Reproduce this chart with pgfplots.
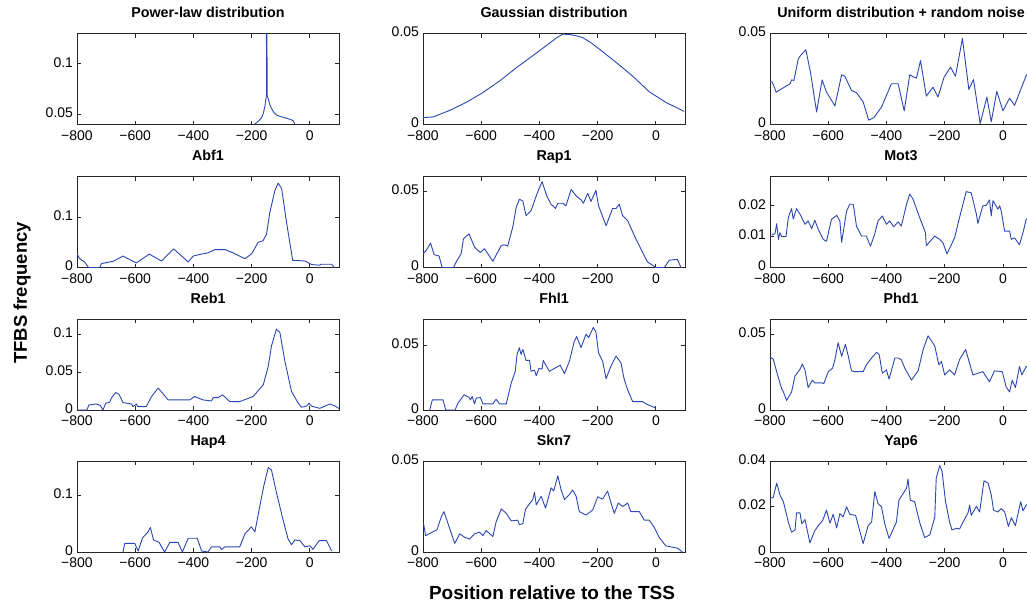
\documentclass[border=0pt]{standalone}
\usepackage{fontspec}
\setmainfont{Liberation Sans}
\usepackage{pgfplots}
\pgfplotsset{compat=1.18}

\definecolor{lineblue}{rgb}{0.17,0.27,0.70}

\pgfplotsset{
  panel/.style={
    width=262pt, height=91pt, scale only axis, anchor=north west,
    xmin=-800, xmax=100,
    xtick={-800,-600,-400,-200,0},
    xticklabels={−800,−600,−400,−200,0},
    scaled ticks=false,
    tick align=inside, major tick length=4pt,
    axis line style={line width=0.8pt, black!85},
    tick style={line width=0.8pt, black!85},
    ticklabel style={font=\fontsize{14}{14}\selectfont},
    xticklabel style={yshift=-2.5pt},
    yticklabel style={xshift=-0.5pt, yshift=1.5pt},
    title style={font=\bfseries\fontsize{14.3}{15}\selectfont,
                 at={(0.5,1)}, anchor=base, yshift=10pt},
  },
}
\tikzset{curve/.style={lineblue, line width=0.9pt, line join=round}}

\begin{document}
\begin{tikzpicture}
\useasboundingbox (0,0) rectangle (1027pt,-603pt);
\clip (0,0) rectangle (1027pt,-603pt);

% ---- row 1 ----
\begin{axis}[panel, at={(77pt,-33.5pt)}, title={Power-law distribution},
  ymin=0.04, ymax=0.13, ytick={0.05,0.1}, yticklabels={0.05,0.1}]
\addplot[curve] coordinates {
(-190,0.0404) (-178,0.0430) (-166,0.0468) (-160,0.0510) (-155,0.0574)
(-151,0.0650) (-149,0.0692) (-150,0.30) (-148,0.30) (-147,0.0690)
(-143,0.0654) (-138,0.0600) (-132,0.0558) (-124,0.0522) (-115,0.0494)
(-100,0.0478) (-80,0.0462) (-65,0.0448) (-57,0.0436) (-52,0.0407)
};
\end{axis}

\begin{axis}[panel, at={(423pt,-33.5pt)}, title={Gaussian distribution},
  ymin=0, ymax=0.05, ytick={0,0.05}, yticklabels={0,0.05}]
\addplot[curve] coordinates {
(-800,0.0038) (-766,0.0041) (-709,0.0077) (-651,0.0122) (-594,0.0176)
(-537,0.0239) (-480,0.0311) (-423,0.0378) (-366,0.0446) (-340,0.0478)
(-320,0.0496) (-297,0.0495) (-270,0.0486) (-251,0.0477) (-222,0.0448)
(-194,0.0414) (-137,0.0342) (-80,0.0266) (-23,0.0180) (34,0.0122)
(97,0.0072)
};
\end{axis}

\begin{axis}[panel, at={(770pt,-33.5pt)}, title={Uniform distribution + random noise},
  ymin=0, ymax=0.05, ytick={0,0.05}, yticklabels={0,0.05}]
\addplot[curve] coordinates {
(-800,0.0236) (-792,0.0233) (-779,0.0178) (-760,0.0196) (-731,0.0224)
(-726,0.0245) (-718,0.0242) (-703,0.0360) (-697,0.0375) (-677,0.0411)
(-661,0.0287) (-640,0.0069) (-621,0.0245) (-606,0.0178) (-577,0.0102)
(-554,0.0273) (-543,0.0265) (-520,0.0187) (-503,0.0175) (-480,0.0124)
(-461,0.0024) (-443,0.0038) (-417,0.0096) (-383,0.0224) (-360,0.0224)
(-339,0.0075) (-320,0.0273) (-306,0.0260) (-297,0.0255) (-283,0.0351)
(-263,0.0156) (-240,0.0205) (-223,0.0151) (-202,0.0260) (-180,0.0315)
(-163,0.0265) (-139,0.0473) (-117,0.0193) (-101,0.0247) (-78,0.0005)
(-55,0.0151) (-40,0.0015) (-21,0.0182) (0,0.0075) (23,0.0145)
(40,0.0105) (80,0.0269) (100,0.0300)
};
\end{axis}

% ---- row 2 ----
\begin{axis}[panel, at={(77pt,-176.5pt)}, title={Abf1},
  ymin=0, ymax=0.18, ytick={0,0.1}, yticklabels={0,0.1}]
\addplot[curve] coordinates {
(-800,0.0271) (-791,0.0174) (-774,0.0110) (-762,0.0013) (-759,0)
(-722,0) (-716,0.0077) (-676,0.0123) (-642,0.0226) (-596,0.0090)
(-552,0.0265) (-510,0.0129) (-468,0.0368) (-418,0.0110) (-401,0.0226)
(-378,0.0258) (-350,0.0290) (-327,0.0355) (-292,0.0355) (-264,0.0290)
(-223,0.0174) (-200,0.0271) (-178,0.0497) (-161,0.0529) (-149,0.0658)
(-138,0.1077) (-120,0.1529) (-109,0.1671) (-97,0.1561) (-80,0.0884)
(-59,0.0142) (-17,0.0129) (6,0.0058) (34,0.0045) (38,0.0065)
(75,0.0065) (83,0)
};
\end{axis}

\begin{axis}[panel, at={(423pt,-176.5pt)}, title={Rap1},
  ymin=0, ymax=0.06, ytick={0,0.05}, yticklabels={0,0.05}]
\addplot[curve] coordinates {
(-800,0.0091) (-789,0.0113) (-774,0.0161) (-762,0.0085) (-745,0.0076)
(-734,0) (-695,0) (-686,0.0037) (-669,0.0091) (-661,0.0189)
(-642,0.0222) (-623,0.0135) (-603,0.0098) (-589,0.0124) (-560,0.0041)
(-531,0.0146) (-520,0.0150) (-509,0.0141) (-491,0.0272) (-480,0.0396)
(-469,0.0450) (-457,0.0439) (-446,0.0341) (-429,0.0374) (-409,0.0483)
(-391,0.0567) (-375,0.0472) (-360,0.0417) (-345,0.0389) (-337,0.0424)
(-320,0.0424) (-309,0.0407) (-291,0.0515) (-274,0.0472) (-257,0.0446)
(-249,0.0424) (-234,0.0489) (-223,0.0435) (-206,0.0509) (-197,0.0407)
(-171,0.0276) (-149,0.0389) (-137,0.0389) (-126,0.0417) (-114,0.0341)
(-97,0.0309) (-69,0.0189) (-46,0.0102) (-29,0.0037) (0,0)
(29,0) (46,0.0048) (74,0.0054) (86,0)
};
\end{axis}

\begin{axis}[panel, at={(770pt,-176.5pt)}, title={Mot3},
  ymin=0, ymax=0.0295, ytick={0,0.01,0.02}, yticklabels={0,0.01,0.02}]
\addplot[curve] coordinates {
(-794,0.0105) (-783,0.0110) (-777,0.0142) (-771,0.0091) (-766,0.0113)
(-760,0.0100) (-745,0.0100) (-737,0.0162) (-726,0.0191) (-720,0.0157)
(-709,0.0191) (-697,0.0173) (-680,0.0140) (-669,0.0151) (-657,0.0126)
(-646,0.0153) (-634,0.0123) (-617,0.0091) (-606,0.0085) (-589,0.0156)
(-571,0.0169) (-560,0.0151) (-554,0.0082) (-537,0.0183) (-526,0.0205)
(-514,0.0205) (-503,0.0134) (-486,0.0102) (-469,0.0102) (-455,0.0069)
(-440,0.0109) (-429,0.0151) (-414,0.0167) (-400,0.0140) (-389,0.0151)
(-375,0.0132) (-360,0.0148) (-349,0.0134) (-331,0.0205) (-320,0.0238)
(-309,0.0222) (-286,0.0162) (-266,0.0113) (-263,0.0071) (-234,0.0102)
(-217,0.0091) (-206,0.0080) (-192,0.0044) (-166,0.0096) (-149,0.0162)
(-126,0.0246) (-109,0.0242) (-91,0.0173) (-86,0.0143) (-69,0.0200)
(-57,0.0202) (-46,0.0219) (-40,0.0167) (-34,0.0217) (-17,0.0189)
(-11,0.0200) (-6,0.0184) (6,0.0118) (23,0.0118) (29,0.0091)
(40,0.0096) (57,0.0074) (69,0.0113) (80,0.0156) (100,0.0170)
};
\end{axis}

% ---- row 3 ----
\begin{axis}[panel, at={(77pt,-319pt)}, title={Reb1},
  ymin=0, ymax=0.12, ytick={0,0.05,0.1}, yticklabels={0,0.05,0.1}]
\addplot[curve] coordinates {
(-800,0) (-766,0) (-759,0.0067) (-734,0.0080) (-720,0.0062)
(-711,0) (-701,0.0089) (-688,0.0102) (-682,0.0156) (-667,0.0231)
(-656,0.0209) (-642,0.0098) (-613,0.0080) (-608,0.0044) (-596,0.0080)
(-591,0.0044) (-562,0.0044) (-544,0.0178) (-521,0.0289) (-504,0.0213)
(-487,0.0133) (-413,0.0133) (-396,0.0178) (-367,0.0133) (-338,0.0120)
(-332,0.0164) (-315,0.0164) (-300,0.0200) (-275,0.0111) (-241,0.0111)
(-195,0.0178) (-160,0.0333) (-143,0.0578) (-132,0.0844) (-115,0.1067)
(-103,0.1022) (-86,0.0644) (-63,0.0244) (-40,0.0089) (-29,0.0036)
(-11,0.0053) (-3,0.0089) (5,0.0053) (34,0.0022) (69,0.0080)
(86,0.0053) (100,0.0020)
};
\end{axis}

\begin{axis}[panel, at={(423pt,-319pt)}, title={Fhl1},
  ymin=0, ymax=0.07, ytick={0,0.05}, yticklabels={0,0.05}]
\addplot[curve] coordinates {
(-777,0) (-768,0.0078) (-731,0.0078) (-722,0) (-690,0)
(-680,0.0052) (-659,0.0117) (-642,0.0098) (-637,0.0078) (-631,0.0104)
(-623,0.0047) (-617,0.0091) (-603,0.0096) (-594,0.0047) (-560,0.0047)
(-549,0.0083) (-537,0.0047) (-514,0.0047) (-497,0.0207) (-483,0.0298)
(-477,0.0427) (-469,0.0479) (-463,0.0427) (-457,0.0466) (-446,0.0381)
(-434,0.0383) (-429,0.0298) (-417,0.0306) (-411,0.0264) (-402,0.0319)
(-391,0.0316) (-387,0.0381) (-366,0.0298) (-345,0.0324) (-329,0.0345)
(-314,0.0280) (-297,0.0376) (-280,0.0531) (-272,0.0565) (-257,0.0479)
(-251,0.0518) (-240,0.0583) (-231,0.0557) (-215,0.0635) (-206,0.0601)
(-197,0.0438) (-183,0.0376) (-171,0.0241) (-157,0.0324) (-137,0.0415)
(-120,0.0363) (-109,0.0238) (-97,0.0155) (-80,0.0065) (-46,0.0065)
(-34,0.0047) (-6,0.0021) (0,0.0013)
};
\end{axis}

\begin{axis}[panel, at={(770pt,-319pt)}, title={Phd1},
  ymin=0, ymax=0.06, ytick={0,0.05}, yticklabels={0,0.05}]
\addplot[curve] coordinates {
(-800,0.0350) (-789,0.0336) (-774,0.0231) (-760,0.0141) (-754,0.0119)
(-743,0.0063) (-726,0.0119) (-714,0.0224) (-697,0.0269) (-689,0.0303)
(-680,0.0265) (-669,0.0148) (-654,0.0197) (-646,0.0179) (-623,0.0179)
(-615,0.0175) (-600,0.0253) (-585,0.0276) (-577,0.0332) (-566,0.0444)
(-554,0.0354) (-541,0.0433) (-531,0.0354) (-520,0.0258) (-509,0.0253)
(-480,0.0253) (-469,0.0298) (-451,0.0343) (-434,0.0381) (-425,0.0365)
(-414,0.0242) (-400,0.0265) (-391,0.0204) (-371,0.0343) (-360,0.0343)
(-349,0.0332) (-337,0.0276) (-314,0.0197) (-291,0.0260) (-274,0.0399)
(-257,0.0489) (-234,0.0422) (-220,0.0298) (-211,0.0320) (-200,0.0231)
(-183,0.0265) (-166,0.0231) (-149,0.0332) (-128,0.0399) (-103,0.0231)
(-69,0.0253) (-46,0.0186) (-29,0.0258) (-2,0.0253) (11,0.0152)
(23,0.0119) (32,0.0197) (43,0.0148) (57,0.0287) (65,0.0231)
(80,0.0287) (100,0.0300)
};
\end{axis}

% ---- row 4 ----
\begin{axis}[panel, at={(77pt,-461pt)}, title={Hap4},
  ymin=0, ymax=0.16, ytick={0,0.1}, yticklabels={0,0.1}]
\addplot[curve] coordinates {
(-642,0) (-636,0.0152) (-602,0.0152) (-590,0.0018) (-575,0.0248)
(-556,0.0352) (-548,0.0430) (-537,0.0212) (-518,0.0170) (-499,0)
(-481,0.0170) (-453,0.0170) (-438,0) (-418,0.0242) (-387,0.0242)
(-372,0.0018) (-350,0) (-338,0.0091) (-309,0.0091) (-304,0.0042)
(-292,0.0091) (-241,0.0091) (-223,0.0321) (-201,0.0442) (-189,0.0352)
(-172,0.0806) (-158,0.1170) (-143,0.1485) (-132,0.1442) (-115,0.1048)
(-92,0.0564) (-75,0.0230) (-63,0.0127) (-52,0.0212) (-34,0.0200)
(-17,0.0091) (0,0.0109) (11,0.0048) (32,0.0200) (57,0.0200)
(75,0.0018)
};
\end{axis}

\begin{axis}[panel, at={(423pt,-461pt)}, title={Skn7},
  ymin=0, ymax=0.05, ytick={0,0.05}, yticklabels={0,0.05}]
\addplot[curve] coordinates {
(-798,0.0156) (-791,0.0090) (-752,0.0122) (-737,0.0194) (-728,0.0222)
(-714,0.0156) (-691,0.0047) (-674,0.0100) (-657,0.0081) (-640,0.0071)
(-623,0.0100) (-606,0.0109) (-594,0.0090) (-583,0.0118) (-560,0.0085)
(-549,0.0165) (-531,0.0237) (-514,0.0212) (-497,0.0171) (-474,0.0175)
(-469,0.0150) (-457,0.0156) (-448,0.0235) (-423,0.0288) (-417,0.0329)
(-411,0.0259) (-394,0.0306) (-379,0.0241) (-360,0.0353) (-351,0.0335)
(-337,0.0419) (-326,0.0344) (-314,0.0288) (-297,0.0316) (-286,0.0341)
(-274,0.0306) (-263,0.0222) (-240,0.0203) (-217,0.0231) (-200,0.0303)
(-183,0.0291) (-166,0.0335) (-154,0.0269) (-143,0.0212) (-129,0.0269)
(-114,0.0250) (-97,0.0269) (-86,0.0222) (-57,0.0222) (-40,0.0175)
(-23,0.0175) (-6,0.0137) (11,0.0081) (34,0.0034) (74,0.0021)
(91,0)
};
\end{axis}

\begin{axis}[panel, at={(770pt,-461pt)}, title={Yap6},
  ymin=0, ymax=0.04, ytick={0,0.02,0.04}, yticklabels={0,0.02,0.04}]
\addplot[curve] coordinates {
(-800,0.0236) (-789,0.0240) (-777,0.0303) (-766,0.0251) (-754,0.0221)
(-737,0.0131) (-726,0.0087) (-714,0.0097) (-709,0.0172) (-697,0.0172)
(-691,0.0124) (-680,0.0143) (-663,0.0040) (-646,0.0094) (-634,0.0116)
(-619,0.0139) (-606,0.0184) (-594,0.0127) (-583,0.0166) (-571,0.0106)
(-560,0.0169) (-549,0.0154) (-537,0.0199) (-526,0.0166) (-506,0.0161)
(-480,0.0037) (-463,0.0116) (-451,0.0131) (-440,0.0266) (-429,0.0213)
(-417,0.0199) (-406,0.0124) (-391,0.0060) (-366,0.0131) (-357,0.0228)
(-331,0.0281) (-326,0.0321) (-318,0.0228) (-303,0.0221) (-286,0.0131)
(-269,0.0064) (-251,0.0075) (-234,0.0154) (-229,0.0325) (-217,0.0380)
(-209,0.0355) (-197,0.0221) (-183,0.0131) (-175,0.0097) (-160,0.0104)
(-149,0.0101) (-131,0.0146) (-120,0.0172) (-114,0.0206) (-109,0.0161)
(-91,0.0201) (-80,0.0176) (-65,0.0313) (-51,0.0303) (-40,0.0251)
(-32,0.0184) (-17,0.0176) (-6,0.0191) (6,0.0176) (19,0.0112)
(29,0.0151) (43,0.0116) (61,0.0221) (69,0.0181) (80,0.0206)
(100,0.0220)
};
\end{axis}

% shared axis labels
\node[font=\bfseries\fontsize{19}{19}\selectfont, anchor=base]
  at (552pt,-599pt) {Position relative to the TSS};
\node[font=\bfseries\fontsize{18.5}{18.5}\selectfont, rotate=90, anchor=base]
  at (27pt,-293pt) {TFBS frequency};
\end{tikzpicture}
\end{document}
